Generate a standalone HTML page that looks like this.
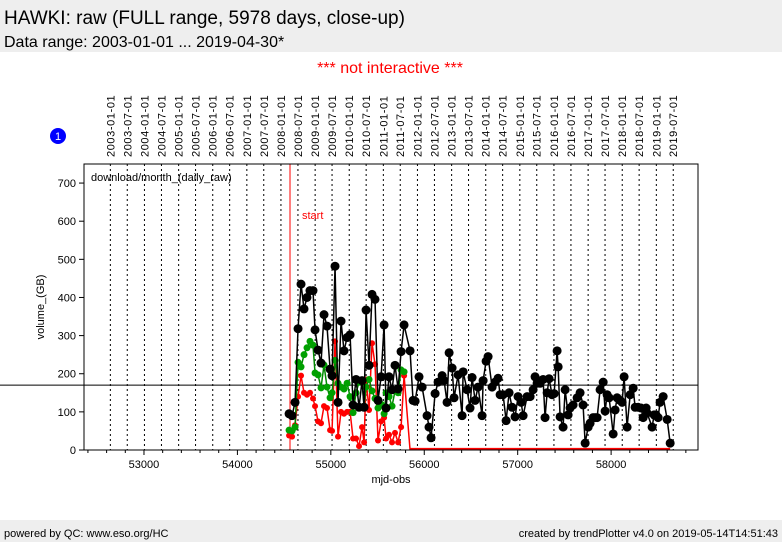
<!DOCTYPE html>
<html><head><meta charset="utf-8">
<style>
body{margin:0;width:782px;height:542px;overflow:hidden;background:#fff;font-family:"Liberation Sans",sans-serif;}
</style></head>
<body>
<svg id="c" width="782" height="542" xmlns="http://www.w3.org/2000/svg" font-family="Liberation Sans, sans-serif">
<rect x="0" y="0" width="782" height="52" fill="#eeeeee"/>
<text x="4" y="24" font-size="19">HAWKI: raw (FULL range, 5978 days, close-up)</text>
<text x="4" y="47" font-size="16">Data range: 2003-01-01 ... 2019-04-30*</text>
<text x="390" y="73" font-size="16" fill="#ff0000" text-anchor="middle">*** not interactive ***</text>
<circle cx="58" cy="136" r="8" fill="#0000ff"/>
<text x="58" y="140" font-size="11" fill="#fff" text-anchor="middle">1</text>
<rect x="0" y="520" width="782" height="22" fill="#eeeeee"/>
<text x="4" y="537" font-size="11">powered by QC: www.eso.org/HC</text>
<text x="778" y="537" font-size="11" text-anchor="end">created by trendPlotter v4.0 on 2019-05-14T14:51:43</text>
<g id="plot"></g>
</svg>
<script>
const blackMjd=[54553,54585,54617,54649,54681,54713,54745,54777,54809,54831,54863,54895,54927,54959,54992,55013,55045,55077,55109,55141,55174,55206,55238,55270,55302,55334,55356,55377,55409,55441,55473,55505,55538,55570,55591,55623,55655,55687,55720,55752,55784,
55848,55880,55902,55944,55977,56030,56051,56073,56116,56148,56191,56212,56244,56266,56298,56319,56362,56405,56416,56458,56490,56512,56544,56576,56619,56630,56662,56683,56726,56758,56790,56812,56844,56876,56908,56940,56972,57004,57037,57058,57101,57133,57165,57186,57208,57240,57272,57293,57315,57336,57368,57390,57422,57433,57454,57486,57508,57540,57561,57593,57636,57668,57700,57722,57754,57775,57807,57829,57850,57882,57915,57936,57957,57979,58022,58043,58064,58097,58118,58139,58171,58204,58236,58257,58289,58321,58343,58375,58385,58439,58460,58481,58503,58524,58557,58600,58632];
const blackVal=[95,90,125,318,435,370,400,418,418,315,262,228,355,325,212,195,482,125,338,260,295,302,118,185,112,182,112,367,222,408,395,130,192,328,110,192,158,222,160,258,328,
260,130,128,192,165,90,60,32,148,178,195,182,125,255,215,137,197,90,205,158,110,190,130,165,90,182,233,245,165,178,188,145,145,77,150,112,87,140,125,90,140,140,158,192,175,175,185,85,150,187,145,148,260,218,87,60,158,92,110,118,137,150,118,18,60,70,85,85,85,158,178,102,145,137,42,105,137,130,125,192,60,145,162,112,112,110,85,110,97,60,92,92,85,125,140,80,18];
const greenVal=[52,50,60,230,218,250,268,285,275,202,197,163,223,165,137,150,235,175,165,160,175,140,98,150,178,180,115,165,185,155,135,110,120,95,150,140,115,155,150,210,205];
const redVal=[38,35,65,140,195,150,145,150,135,115,75,70,115,110,52,50,285,35,100,95,100,100,30,30,10,60,20,185,105,280,225,25,75,85,30,40,20,45,20,60,195];
const yTicks=[0,100,200,300,400,500,600,700];
const xTicks=[53000,54000,55000,56000,57000,58000];
const startMjd=54563;
const refLine=170;
const firstYear=2003,lastYear=2019;

const NS="http://www.w3.org/2000/svg";
const L=84,R=698,T=164,B=450;
const X0=52358,X1=58930,Y0=0,Y1=750;
const sx=v=>L+(v-X0)/(X1-X0)*(R-L);
const sy=v=>B-(v-Y0)/(Y1-Y0)*(B-T);
const g=document.getElementById('plot');
function mk(tag,at,parent){const e=document.createElementNS(NS,tag);for(const k in at)e.setAttribute(k,at[k]);(parent||g).appendChild(e);return e;}
const mjdOf=(y,m)=>Date.UTC(y,m,1)/86400000+40587;

let e=mk('rect',{x:L,y:T,width:R-L,height:B-T,fill:'#fff',stroke:'none'});


for(let y=firstYear;y<=lastYear;y++){for(const m of [0,6]){
  const md=mjdOf(y,m);const x=sx(md);
  if(x<L||x>R)continue;
  e=mk('line',{x1:x,y1:T,x2:x,y2:B,stroke:'#000','stroke-width':1,'stroke-dasharray':'2,3'});
  
  
  const lab=y+'-'+(m==0?'01':'07')+'-01';
  e=mk('text',{x:0,y:0,'font-size':11,transform:`translate(${x+4},157) rotate(-90)`,'letter-spacing':'0.6'});
  e.textContent=lab;
  
  
}}
e=mk('line',{x1:0,y1:sy(refLine),x2:R,y2:sy(refLine),stroke:'#000','stroke-width':1});


e=mk('line',{x1:sx(startMjd),y1:T,x2:sx(startMjd),y2:B,stroke:'#ff0000','stroke-width':1});


e=mk('text',{x:sx(startMjd)+12,y:219,'font-size':11,fill:'#ff0000'});e.textContent='start';


// red series
const nRed=redVal.length;
let pts=[];
for(let i=0;i<nRed;i++){pts.push(sx(blackMjd[i])+','+sy(redVal[i]));}
pts.push(sx(blackMjd[nRed])+','+sy(0));
e=mk('polyline',{points:pts.join(' '),fill:'none',stroke:'#ff0000','stroke-width':1.5});


let zp=[];
for(let i=nRed;i<blackMjd.length;i++){zp.push(sx(blackMjd[i])+','+(sy(0)-1));}
e=mk('polyline',{points:zp.join(' '),fill:'none',stroke:'#ff0000','stroke-width':2.2});


for(let i=0;i<nRed;i++){
  e=mk('circle',{cx:sx(blackMjd[i]),cy:sy(redVal[i]),r:3,fill:'#ff0000'});
  
  }
pts=greenVal.map((v,i)=>sx(blackMjd[i])+','+sy(v));
e=mk('polyline',{points:pts.join(' '),fill:'none',stroke:'#008800','stroke-width':1.5});


greenVal.forEach((v,i)=>{e=mk('circle',{cx:sx(blackMjd[i]),cy:sy(v),r:3.5,fill:'#00a000'});
  
  });
pts=blackVal.map((v,i)=>sx(blackMjd[i])+','+sy(v));
e=mk('polyline',{points:pts.join(' '),fill:'none',stroke:'#000','stroke-width':1.5});


blackVal.forEach((v,i)=>{e=mk('circle',{cx:sx(blackMjd[i]),cy:sy(v),r:4.5,fill:'#000'});
  
  });
e=mk('rect',{x:L,y:T,width:R-L,height:B-T,fill:'none',stroke:'#000','stroke-width':1});


yTicks.forEach(v=>{const y=sy(v);
  e=mk('line',{x1:L-5,y1:y,x2:L,y2:y,stroke:'#000'});
  
  
  e=mk('text',{x:L-8,y:y+4,'font-size':11,'text-anchor':'end'});e.textContent=v;
  
  });
for(let v=52400;v<=58800;v+=200){const x=sx(v);const major=v%1000==0;
  e=mk('line',{x1:x,y1:B,x2:x,y2:B+(major?5:3),stroke:'#000'});
  
  }
xTicks.forEach(v=>{e=mk('text',{x:sx(v),y:B+18,'font-size':11,'text-anchor':'middle'});e.textContent=v;
  
  });
e=mk('text',{x:(L+R)/2,y:483,'font-size':11,'text-anchor':'middle'});e.textContent='mjd-obs';


e=mk('text',{x:0,y:0,'font-size':11,'text-anchor':'middle',transform:`translate(44,${(T+B)/2}) rotate(-90)`});e.textContent='volume_(GB)';


e=mk('text',{x:91,y:181,'font-size':11});e.textContent='download/month_(daily_raw)';


</script>
</body></html>
